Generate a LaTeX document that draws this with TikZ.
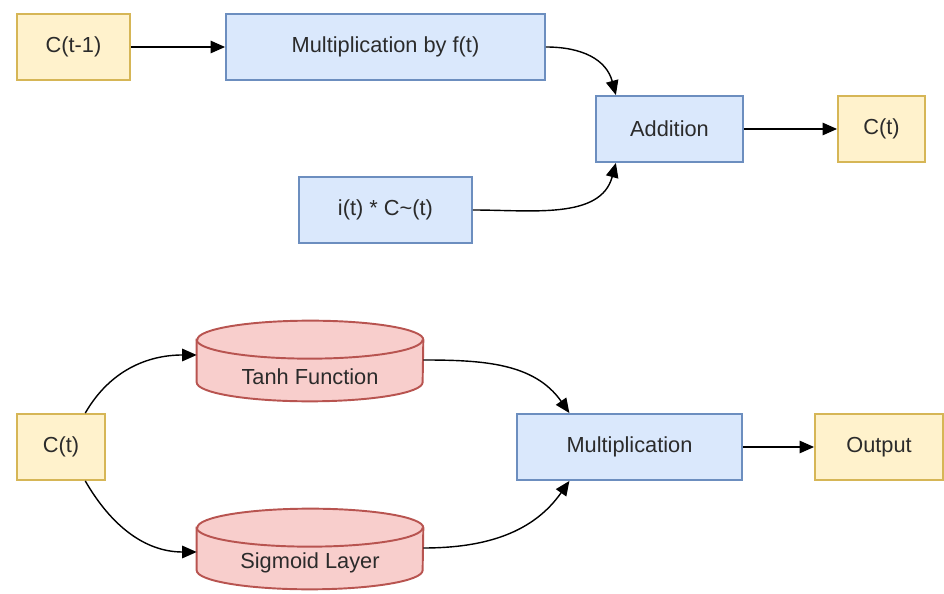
\documentclass[tikz,border=0pt]{standalone}
\usepackage{fontspec}
\setmainfont{Liberation Sans}
\usetikzlibrary{arrows.meta,calc,backgrounds}
\definecolor{cellfill}{HTML}{FFF2CC}
\definecolor{celldraw}{HTML}{D6B656}
\definecolor{opfill}{HTML}{DAE8FC}
\definecolor{opdraw}{HTML}{6C8EBF}
\definecolor{drumfill}{HTML}{F8CECC}
\definecolor{drumdraw}{HTML}{B85450}
\definecolor{txt}{HTML}{2B2B2B}
\begin{document}
\begin{tikzpicture}[x=0.02cm, y=-0.02cm,
  every node/.style={font=\fontsize{12.4}{15}\selectfont, text=txt},
  state node/.style={rectangle,draw=celldraw,fill=cellfill,line width=1.1pt,minimum height=1.32cm,inner sep=0pt},
  op node/.style={rectangle,draw=opdraw,fill=opfill,line width=1.1pt,minimum height=1.32cm,inner sep=0pt},
  drum node/.style={rectangle,inner sep=0pt,minimum width=4.52cm,minimum height=1.6cm},
  drum line/.style={draw=drumdraw,fill=drumfill,line width=1.1pt},
  link/.style={-{Triangle[length=2.9mm,width=2.5mm]},line width=0.8pt,black}]
\useasboundingbox (0,0) rectangle (944,594);
% cell state update
\node [state node,minimum width=2.26cm] (cprev) at (73.5,47) {C(t-1)};
\node [op node,minimum width=6.38cm] (mulf) at (385.5,47) {Multiplication by f(t)};
\node [op node,minimum width=2.94cm] (add) at (669.5,129) {Addition};
\node [state node,minimum width=1.74cm] (ct) at (881.5,129) {C(t)};
\node [op node,minimum width=3.46cm] (ict) at (385.5,210) {i(t) * C\textasciitilde(t)};
% output
\node [state node,minimum width=1.76cm] (ct2) at (61,447) {C(t)};
\node [drum node,label={[yshift=-0.32cm]center:Tanh Function}] (tanh) at (310,361) {};
\node [drum node,label={[yshift=-0.28cm]center:Sigmoid Layer}] (sig) at (310,549) {};
\node [op node,minimum width=4.5cm] (mul) at (629.5,447) {Multiplication};
\node [state node,minimum width=2.56cm] (out) at (879,447) {Output};
\begin{scope}[on background layer]
\foreach \n in {tanh,sig} {
  \draw [drum line] ($(\n.north west)+(0,19)$) -- ($(\n.south west)+(0,-19)$)
    arc[start angle=180,end angle=360,x radius=2.26cm,y radius=0.38cm]
    -- ($(\n.north east)+(0,19)$)
    arc[start angle=0,end angle=180,x radius=2.26cm,y radius=0.38cm] -- cycle;
  \draw [drum line,fill=none] ($(\n.north west)+(0,19)$)
    arc[start angle=180,end angle=360,x radius=2.26cm,y radius=0.38cm];
}
\end{scope}
\path [link]
  (cprev) edge (mulf)
  (mulf.east) edge [out=0,in=105,looseness=1.1] ($(add.north west)!0.14!(add.north east)$)
  (ict.east) edge [out=0,in=-105] ($(add.south west)!0.14!(add.south east)$)
  (add) edge (ct)
  ($(ct2.north west)!0.77!(ct2.north east)$) edge [out=60,in=180] ($(tanh.west)+(0,-6)$)
  ($(ct2.south west)!0.77!(ct2.south east)$) edge [out=-60,in=180] ($(sig.west)+(0,3)$)
  ($(tanh.east)+(0,-1)$) edge [out=0,in=125] ($(mul.north west)!0.235!(mul.north east)$)
  ($(sig.east)+(0,-1)$) edge [out=0,in=-125] ($(mul.south west)!0.235!(mul.south east)$)
  (mul) edge (out)
  ;
\end{tikzpicture}
\end{document}
